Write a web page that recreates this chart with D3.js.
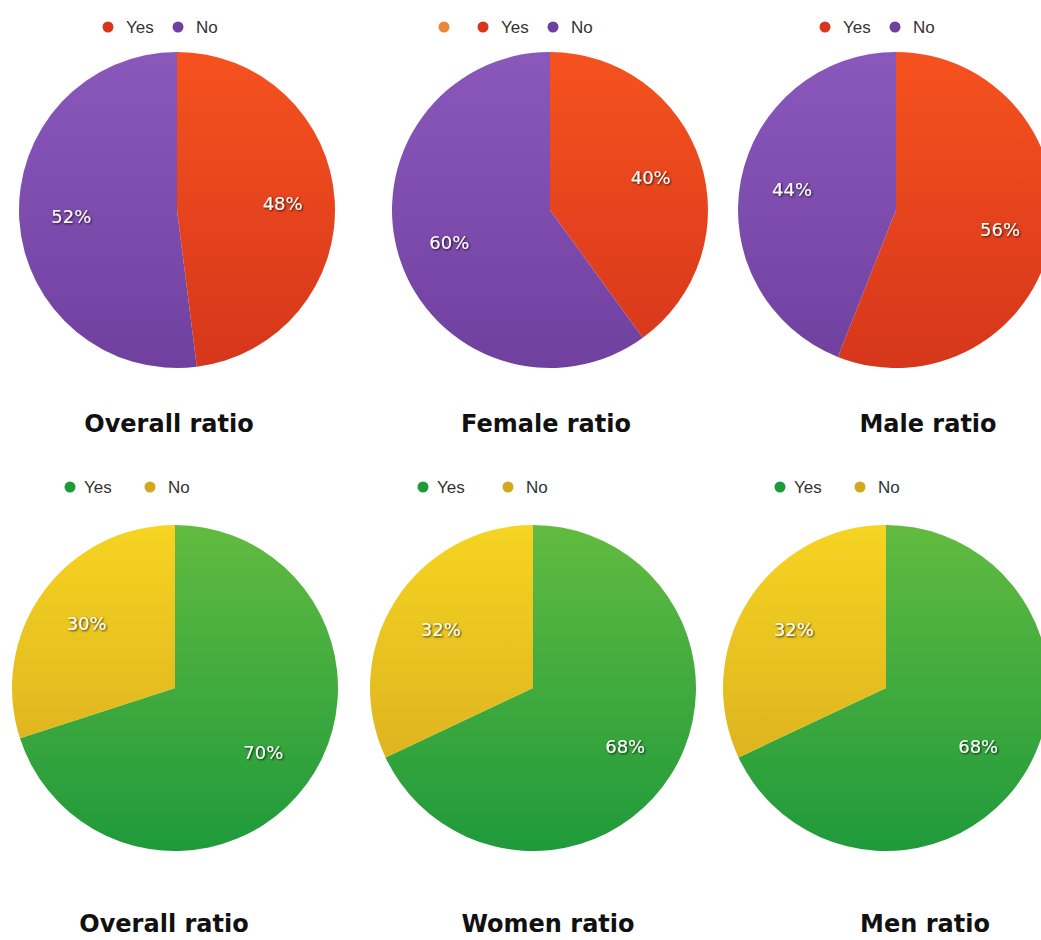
<!DOCTYPE html>
<html>
<head>
<meta charset="utf-8">
<script src="https://cdn.jsdelivr.net/npm/d3@7"></script>
<style>
  body { margin: 0; background: #fff; }
  svg { display: block; }
</style>
</head>
<body>
<svg id="chart"></svg>
<script>
// chart data
var titles = ["Overall ratio", "Female ratio", "Male ratio", "Overall ratio", "Women ratio", "Men ratio"];
var categories = ["Yes", "No"];
var yesValues = [48, 40, 56, 70, 68, 68];
var noValues = [52, 60, 44, 30, 32, 32];

// layout
var width = 1041, height = 940;
var cols = [[177, 550, 896], [175, 533, 886]];
var rowY = [210, 688];
var radius = [158, 163];
var titleX = [[169, 546, 928], [164, 548, 925]];
var titleY = [432, 932];
var legendX = [[108, 483, 825], [70, 423, 780]];
var legendY = [27, 487];
var legendGap = [70, 80];
var legendTextOff = [18, 14];

// top row: red / purple, bottom row: green / yellow
var palettes = [
  [["#f6521f", "#d6361b"], ["#8a58bb", "#70409f"]],
  [["#62bb40", "#1f9a3b"], ["#f6d421", "#d4a71f"]]
];

var svg = d3.select("#chart")
    .attr("width", width)
    .attr("height", height);

var defs = svg.append("defs");

var shadow = defs.append("filter").attr("id", "shadow")
    .attr("x", "-20%").attr("y", "-20%").attr("width", "140%").attr("height", "140%");
shadow.append("feDropShadow")
    .attr("dx", 1).attr("dy", 1).attr("stdDeviation", 1)
    .attr("flood-color", "#000").attr("flood-opacity", 0.8);

var pie = d3.pie().sort(null).value(function(d) { return d.value; });

titles.forEach(function(title, i) {
  var row = Math.floor(i / 3), col = i % 3;
  var r = radius[row];
  var data = [
    { key: categories[0], value: yesValues[i], idx: 0 },
    { key: categories[1], value: noValues[i], idx: 1 }
  ];

  // gradients per pie, vertical across the whole pie
  data.forEach(function(d) {
    var c = palettes[row][d.idx];
    var grad = defs.append("linearGradient")
        .attr("id", "gp" + d.idx + "_" + i)
        .attr("gradientUnits", "userSpaceOnUse")
        .attr("x1", 0).attr("y1", -r).attr("x2", 0).attr("y2", r);
    grad.append("stop").attr("offset", "0%").attr("stop-color", c[0]);
    grad.append("stop").attr("offset", "100%").attr("stop-color", c[1]);
  });

  var arc = d3.arc().innerRadius(0).outerRadius(r);
  var labelArc = d3.arc().innerRadius(r * 0.67).outerRadius(r * 0.67);

  var g = svg.append("g")
      .attr("transform", "translate(" + cols[row][col] + "," + rowY[row] + ")");

  var slices = g.selectAll(".slice")
      .data(pie(data))
      .enter().append("g")
      .attr("class", "slice");

  slices.append("path")
      .attr("d", arc)
      .attr("fill", function(d) { return "url(#gp" + d.data.idx + "_" + i + ")"; });

  slices.append("text")
      .attr("transform", function(d) { return "translate(" + labelArc.centroid(d) + ")"; })
      .attr("text-anchor", "middle")
      .attr("dy", "0.35em")
      .attr("fill", "#fff")
      .attr("filter", "url(#shadow)")
      .style("font-family", "'DejaVu Sans', sans-serif")
      .style("font-size", "18px")
      .text(function(d) { return d.data.value + "%"; });

  // title
  svg.append("text")
      .attr("x", titleX[row][col])
      .attr("y", titleY[row])
      .attr("text-anchor", "middle")
      .attr("fill", "#111")
      .style("font-family", "'DejaVu Sans', sans-serif")
      .style("font-weight", "bold")
      .style("font-size", "24px")
      .text(title);

  // legend
  var lg = svg.append("g")
      .attr("transform", "translate(" + legendX[row][col] + "," + legendY[row] + ")");
  categories.forEach(function(cat, k) {
    var xPos = k * legendGap[row] + (row === 1 && col === 1 ? k * 5 : 0);
    lg.append("circle")
        .attr("cx", xPos)
        .attr("cy", 0)
        .attr("r", 5.5)
        .attr("fill", palettes[row][k][1]);
    lg.append("text")
        .attr("x", xPos + legendTextOff[row] + (k === 1 && row === 1 ? 4 : 0))
        .attr("y", 0)
        .attr("dy", "0.35em")
        .attr("fill", "#333")
        .style("font-family", "'Liberation Sans', Arial, sans-serif")
        .style("font-size", "17px")
        .text(cat);
  });
});

// stray orange marker in the female legend
svg.append("circle")
    .attr("cx", 444).attr("cy", 27).attr("r", 5.5)
    .attr("fill", "#e8893a");
</script>
</body>
</html>
